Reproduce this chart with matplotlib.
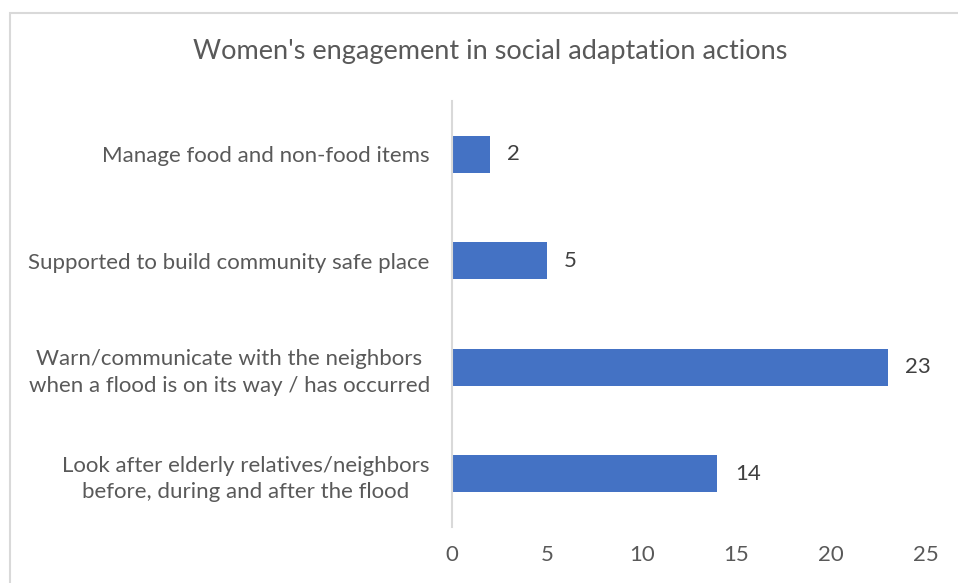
import matplotlib
matplotlib.use("Agg")
import matplotlib.pyplot as plt
from matplotlib.patches import Rectangle

plt.rcParams['font.family'] = ['Lato', 'DejaVu Sans']

categories = [
    "Manage food and non-food items",
    "Supported to build community safe place",
    "Warn/communicate with the neighbors\nwhen a flood is on its way / has occurred",
    "Look after elderly relatives/neighbors\nbefore, during and after the flood",
]
values = [2, 5, 23, 14]
x_ticks = [0, 5, 10, 15, 20, 25]
title = "Women's engagement in social adaptation actions"

W, H = 958, 583
fig = plt.figure(figsize=(W / 100, H / 100), dpi=100)

# chart frame (open on the right and bottom edges)
fig.patches.append(Rectangle((9.5 / W, -0.01), 1.0, 1 - 12.5 / H + 0.01,
                             transform=fig.transFigure, fill=False,
                             edgecolor="#d9d9d9", linewidth=1.5))

ax = fig.add_axes([452 / W, 1 - 527 / H, (926 - 452) / W, (527 - 101) / H])

y = list(range(len(categories)))
ax.barh(y, values, height=0.35, color="#4472C4", zorder=2)
ax.set_ylim(len(categories) - 0.5, -0.5)
ax.set_xlim(0, 25)

ax.set_yticks(y)
ax.set_yticklabels(categories, ha="right", multialignment="center",
                   fontsize=16, color="#595959", linespacing=1.4)
ax.tick_params(axis="y", length=0, pad=16)
ax.set_xticks(x_ticks)
ax.set_xticklabels([str(t) for t in x_ticks], fontsize=16, color="#595959")
ax.tick_params(axis="x", length=0, pad=13)

for s in ["top", "right", "bottom"]:
    ax.spines[s].set_visible(False)
ax.spines["left"].set_color("#d9d9d9")
ax.spines["left"].set_linewidth(1.5)

for yi, v in zip(y, values):
    ax.annotate(str(v), (v, yi), xytext=(12.5, 0), textcoords="offset points",
                va="center", ha="left", fontsize=16, color="#404040")

fig.text(490 / W, 1 - 52 / H, title, ha="center", va="center",
         fontsize=19.5, color="#595959")

fig.savefig("out.png", dpi=100)
